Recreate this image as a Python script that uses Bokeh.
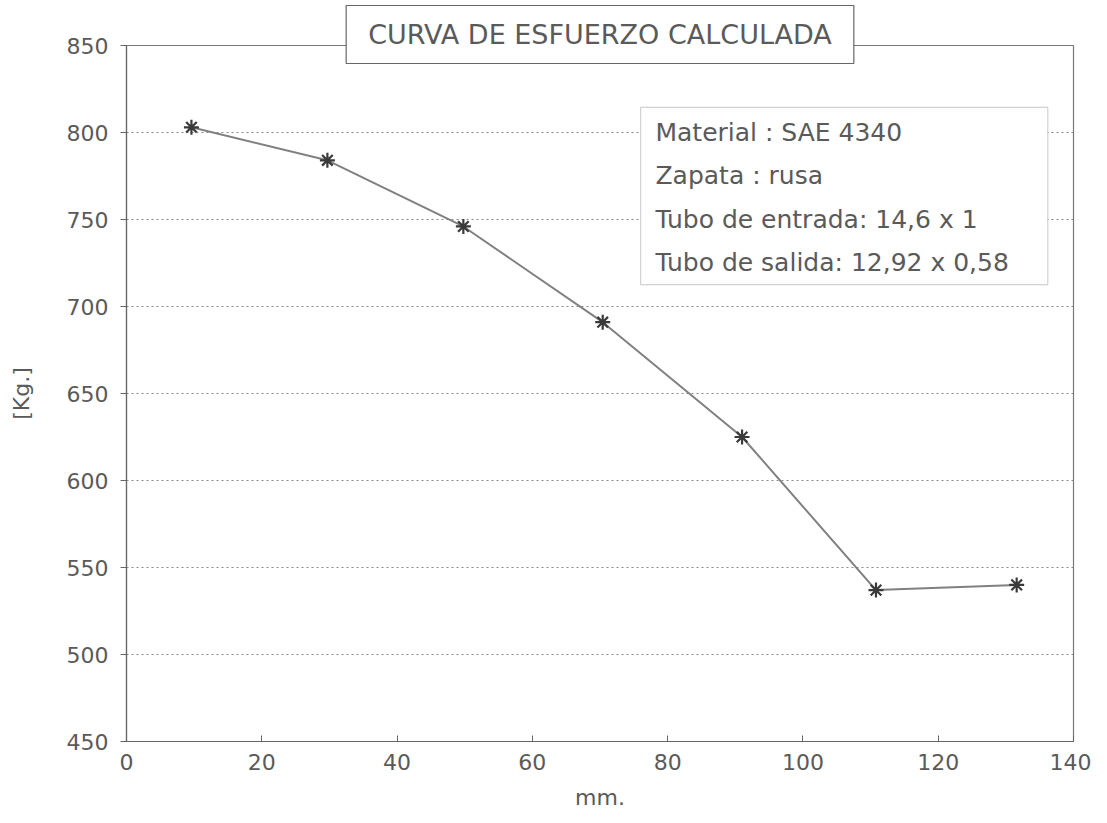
from bokeh.plotting import figure
from bokeh.models import Label, BoxAnnotation, FixedTicker, Title
from bokeh.embed import file_html
from bokeh.resources import INLINE

# Data
x_mm = [9.6, 29.7, 49.8, 70.4, 91.0, 110.8, 131.6]
fuerza_kg = [803, 784, 746, 691, 625, 537, 540]

x_ticks = [0, 20, 40, 60, 80, 100, 120, 140]
y_ticks = [450, 500, 550, 600, 650, 700, 750, 800, 850]

titulo = "CURVA DE ESFUERZO CALCULADA"
leyenda = ["Material : SAE 4340", "Zapata : rusa",
           "Tubo de entrada: 14,6 x 1", "Tubo de salida: 12,92 x 0,58"]

FONT = "DejaVu Sans"
GREY = "#5a5a5a"

p = figure(width=1091, height=817, output_backend="svg", toolbar_location=None,
           x_range=(0, 140), y_range=(450, 850),
           min_border_left=126, min_border_right=18, min_border_top=45, min_border_bottom=76)

p.background_fill_color = "white"
p.border_fill_color = "white"
p.outline_line_color = "#777777"
p.outline_line_width = 1.2

p.xgrid.visible = False
p.ygrid.grid_line_color = "#888888"
p.ygrid.grid_line_dash = "2 3"
p.ygrid.grid_line_width = 1

p.xaxis.ticker = FixedTicker(ticks=x_ticks)
p.yaxis.ticker = FixedTicker(ticks=y_ticks)
for ax in (p.xaxis, p.yaxis):
    ax.axis_line_color = "#666666"
    ax.axis_line_width = 1.2
    ax.major_tick_line_color = "#666666"
    ax.minor_tick_line_color = None
    ax.major_label_text_font = FONT
    ax.major_label_text_font_size = "22px"
    ax.major_label_text_color = GREY
    ax.axis_label_text_font = FONT
    ax.axis_label_text_font_size = "22px"
    ax.axis_label_text_color = GREY
    ax.axis_label_text_font_style = "normal"

p.xaxis.major_tick_in = 6
p.xaxis.major_tick_out = 0
p.yaxis.major_tick_in = 0
p.yaxis.major_tick_out = 6
p.xaxis.major_label_standoff = 12
p.yaxis.major_label_standoff = 12
p.xaxis.axis_label = "mm."
p.yaxis.axis_label = "[Kg.]"
p.xaxis.axis_label_standoff = 12
p.yaxis.axis_label_standoff = 30

p.line(x_mm, fuerza_kg, line_color="#808080", line_width=2)
p.scatter(x_mm, fuerza_kg, marker="asterisk", size=15, line_color="#3a3a3a", line_width=2.2)

# Legend text box
p.add_layout(BoxAnnotation(left=76.0, right=136.2, bottom=712.6, top=814.4,
                           fill_color="white", fill_alpha=1.0,
                           line_color="#666666", line_width=1.2))
ys = [799.8, 775.3, 750.0, 725.3]
for t, yy in zip(leyenda, ys):
    p.add_layout(Label(x=78.2, y=yy, text=t, text_font=FONT, text_font_size="25px",
                       text_color=GREY, text_baseline="middle", text_align="left"))

# Title box overlapping the top of the frame
p.title = Title(text=titulo, align="center", text_font=FONT, text_font_size="27px",
                text_font_style="normal", text_color=GREY,
                background_fill_color="white", background_fill_alpha=1.0,
                border_line_color="#666666", border_line_width=1.2,
                padding=dict(left=22, right=22, top=13, bottom=14),
                standoff=-36, offset=7)

open("out.html", "w").write(file_html(p, INLINE))
